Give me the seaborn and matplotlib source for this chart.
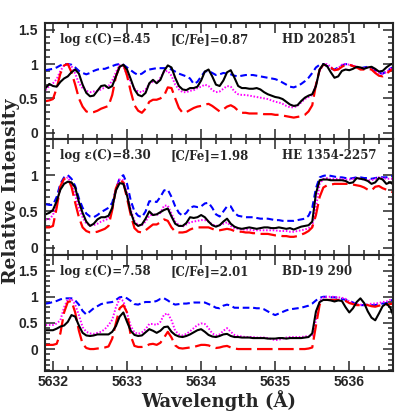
import numpy as np
import pandas as pd
import matplotlib
matplotlib.use("Agg")
import matplotlib.pyplot as plt
import seaborn as sns
from matplotlib.ticker import MultipleLocator, FixedLocator, FuncFormatter

# wavelength grid, 0.05 A step, 5631.90 .. 5636.60
wave = np.round(5631.90 + 0.05 * np.arange(95), 2)

# ---- HD 202851 ----
hd_obs = [0.65,0.71,0.68,0.67,0.74,0.79,0.82,0.88,0.92,0.86,
          0.70,0.58,0.53,0.54,0.61,0.68,0.69,0.65,0.68,0.82,
          0.96,0.99,0.92,0.78,0.63,0.55,0.53,0.58,0.72,0.77,
          0.72,0.77,0.90,0.98,0.95,0.80,0.68,0.63,0.62,0.65,
          0.65,0.67,0.76,0.89,0.92,0.82,0.70,0.68,0.76,0.88,
          0.91,0.80,0.68,0.65,0.65,0.64,0.64,0.65,0.63,0.59,
          0.56,0.54,0.52,0.51,0.49,0.45,0.41,0.39,0.40,0.46,
          0.51,0.54,0.56,0.68,0.92,1.00,0.97,0.88,0.80,0.82,
          0.90,0.92,0.91,0.93,0.96,0.95,0.93,0.95,0.96,0.93,
          0.89,0.90,0.95,0.99,1.01]
hd_blue = [0.91,0.92,0.93,0.95,0.98,1.00,1.00,0.99,0.95,0.90,
           0.87,0.85,0.87,0.90,0.92,0.93,0.93,0.95,0.97,0.99,
           1.00,0.99,0.95,0.91,0.87,0.84,0.86,0.90,0.92,0.93,
           0.94,0.94,0.94,0.94,0.92,0.89,0.86,0.84,0.82,0.79,
           0.71,0.74,0.82,0.89,0.90,0.87,0.84,0.85,0.87,0.86,
           0.85,0.83,0.82,0.83,0.84,0.84,0.84,0.83,0.82,0.81,
           0.80,0.79,0.78,0.76,0.73,0.70,0.67,0.66,0.68,0.71,
           0.75,0.80,0.87,0.95,0.99,1.00,0.97,0.93,0.92,0.95,
           0.98,1.00,0.99,0.97,0.95,0.94,0.95,0.96,0.95,0.91,
           0.87,0.86,0.89,0.93,0.96]
hd_mag = [0.62,0.68,0.72,0.78,0.90,0.98,1.00,0.97,0.86,0.72,
          0.65,0.61,0.59,0.60,0.61,0.63,0.66,0.68,0.76,0.88,
          0.99,0.97,0.84,0.74,0.64,0.60,0.59,0.63,0.71,0.74,
          0.73,0.80,0.89,0.90,0.83,0.70,0.63,0.59,0.59,0.61,
          0.62,0.65,0.67,0.70,0.68,0.62,0.59,0.60,0.64,0.68,
          0.67,0.60,0.56,0.55,0.55,0.54,0.53,0.52,0.51,0.50,
          0.49,0.47,0.45,0.44,0.42,0.39,0.37,0.37,0.39,0.44,
          0.49,0.52,0.55,0.70,0.90,0.99,1.00,0.96,0.91,0.94,
          0.99,1.00,0.99,0.98,0.96,0.93,0.94,0.95,0.94,0.90,
          0.87,0.86,0.88,0.93,0.97]
hd_red = [0.46,0.47,0.49,0.65,0.86,0.98,1.00,0.88,0.70,0.50,
          0.38,0.31,0.29,0.30,0.32,0.35,0.37,0.39,0.55,0.82,
          0.96,1.00,0.83,0.60,0.40,0.32,0.29,0.35,0.45,0.48,
          0.48,0.50,0.54,0.66,0.65,0.50,0.36,0.29,0.30,0.33,
          0.36,0.38,0.39,0.41,0.42,0.39,0.35,0.31,0.34,0.38,
          0.40,0.37,0.32,0.29,0.29,0.28,0.28,0.28,0.28,0.27,
          0.27,0.27,0.26,0.26,0.25,0.24,0.23,0.22,0.23,0.24,
          0.26,0.31,0.40,0.70,0.92,0.99,0.98,0.95,0.91,0.92,
          0.96,0.99,0.99,0.97,0.95,0.92,0.92,0.93,0.92,0.87,
          0.83,0.82,0.86,0.90,0.94]

# ---- HE 1354-2257 ----
he_obs = [0.46,0.48,0.52,0.64,0.80,0.88,0.91,0.90,0.83,0.63,
          0.48,0.36,0.30,0.33,0.39,0.42,0.42,0.44,0.55,0.79,
          0.89,0.88,0.72,0.49,0.34,0.30,0.32,0.40,0.50,0.45,
          0.46,0.49,0.52,0.54,0.43,0.33,0.30,0.30,0.34,0.42,
          0.41,0.42,0.45,0.42,0.36,0.31,0.29,0.31,0.36,0.40,
          0.33,0.29,0.27,0.26,0.27,0.28,0.27,0.26,0.27,0.28,
          0.28,0.27,0.27,0.28,0.27,0.26,0.27,0.25,0.27,0.29,
          0.30,0.31,0.36,0.75,0.93,0.94,0.94,0.93,0.93,0.93,
          0.93,0.92,0.89,0.90,0.96,0.95,0.94,0.92,0.88,0.90,
          0.96,0.94,0.88,0.90,0.87]
he_blue = [0.60,0.59,0.59,0.70,0.88,0.97,1.00,0.95,0.85,0.68,
           0.55,0.47,0.43,0.42,0.45,0.49,0.52,0.55,0.62,0.80,
           0.96,1.00,0.88,0.65,0.50,0.44,0.42,0.50,0.64,0.64,
           0.63,0.70,0.79,0.80,0.70,0.57,0.48,0.44,0.48,0.55,
           0.57,0.56,0.57,0.61,0.62,0.55,0.46,0.43,0.50,0.57,
           0.57,0.48,0.44,0.43,0.42,0.42,0.42,0.41,0.40,0.40,
           0.40,0.39,0.38,0.38,0.37,0.37,0.37,0.37,0.38,0.39,
           0.40,0.44,0.55,0.82,0.97,0.99,1.00,0.99,0.98,0.97,
           0.97,0.96,0.95,0.96,0.97,0.97,0.96,0.96,0.95,0.96,
           0.97,0.97,0.97,0.98,0.99]
he_mag = [0.39,0.39,0.45,0.62,0.82,0.94,0.97,0.88,0.72,0.55,
          0.42,0.33,0.31,0.31,0.33,0.36,0.38,0.40,0.52,0.82,
          0.94,0.93,0.75,0.52,0.37,0.31,0.31,0.36,0.44,0.46,
          0.45,0.48,0.58,0.58,0.47,0.36,0.31,0.29,0.32,0.35,
          0.36,0.37,0.38,0.38,0.36,0.32,0.30,0.31,0.33,0.35,
          0.30,0.27,0.26,0.25,0.25,0.25,0.24,0.24,0.24,0.24,
          0.24,0.24,0.24,0.23,0.23,0.23,0.22,0.22,0.23,0.24,
          0.25,0.27,0.30,0.55,0.88,0.95,0.96,0.95,0.95,0.95,
          0.95,0.94,0.94,0.95,0.96,0.95,0.94,0.93,0.93,0.95,
          0.97,0.96,0.95,0.95,0.95]
he_red = [0.28,0.28,0.30,0.55,0.85,0.95,0.96,0.84,0.62,0.42,
          0.28,0.23,0.21,0.21,0.22,0.24,0.26,0.30,0.52,0.82,
          0.93,0.90,0.68,0.45,0.27,0.22,0.21,0.24,0.28,0.32,
          0.32,0.35,0.39,0.37,0.28,0.22,0.21,0.21,0.22,0.25,
          0.27,0.28,0.28,0.28,0.28,0.26,0.24,0.24,0.25,0.26,
          0.25,0.23,0.22,0.22,0.21,0.21,0.20,0.20,0.19,0.19,
          0.19,0.18,0.17,0.17,0.16,0.16,0.15,0.15,0.16,0.18,
          0.20,0.23,0.28,0.45,0.70,0.83,0.86,0.87,0.88,0.88,
          0.88,0.88,0.88,0.87,0.86,0.85,0.83,0.80,0.79,0.84,
          0.85,0.82,0.80,0.78,0.76]

# ---- BD-19 290 ----
bd_obs = [0.36,0.36,0.36,0.39,0.43,0.45,0.52,0.65,0.62,0.45,
          0.31,0.26,0.25,0.26,0.28,0.28,0.28,0.28,0.33,0.44,
          0.62,0.70,0.52,0.35,0.27,0.25,0.26,0.32,0.38,0.35,
          0.31,0.35,0.42,0.43,0.33,0.27,0.24,0.23,0.25,0.28,
          0.32,0.36,0.38,0.33,0.27,0.24,0.23,0.25,0.28,0.29,
          0.25,0.23,0.23,0.22,0.22,0.22,0.21,0.21,0.21,0.21,
          0.20,0.20,0.20,0.21,0.21,0.20,0.21,0.21,0.21,0.21,
          0.22,0.23,0.30,0.72,0.90,0.94,0.94,0.93,0.91,0.93,
          0.92,0.80,0.70,0.78,0.90,0.97,0.88,0.72,0.60,0.55,
          0.68,0.82,0.87,0.80,0.62]
bd_blue = [0.87,0.88,0.90,0.92,0.95,0.97,0.97,0.97,0.93,0.85,
           0.73,0.66,0.72,0.78,0.82,0.86,0.88,0.89,0.90,0.94,
           0.99,1.00,0.97,0.92,0.86,0.85,0.88,0.90,0.90,0.90,
           0.92,0.96,0.97,0.93,0.88,0.85,0.86,0.87,0.87,0.88,
           0.89,0.89,0.89,0.89,0.86,0.83,0.79,0.78,0.83,0.85,
           0.83,0.79,0.79,0.79,0.79,0.79,0.79,0.78,0.78,0.76,
           0.72,0.68,0.65,0.68,0.71,0.74,0.76,0.77,0.78,0.79,
           0.81,0.83,0.87,0.93,0.98,1.00,1.00,0.99,0.99,0.98,
           0.96,0.94,0.92,0.89,0.86,0.84,0.84,0.85,0.84,0.84,
           0.86,0.87,0.88,0.92,0.95]
bd_mag = [0.46,0.46,0.46,0.49,0.55,0.80,0.95,0.96,0.85,0.65,
          0.42,0.33,0.30,0.29,0.31,0.33,0.38,0.46,0.56,0.80,
          0.96,0.92,0.68,0.44,0.32,0.29,0.32,0.38,0.48,0.48,
          0.46,0.52,0.66,0.68,0.55,0.35,0.28,0.26,0.29,0.34,
          0.40,0.46,0.49,0.48,0.40,0.30,0.26,0.28,0.35,0.40,
          0.33,0.27,0.25,0.24,0.23,0.23,0.23,0.22,0.22,0.22,
          0.21,0.19,0.17,0.18,0.20,0.22,0.23,0.23,0.23,0.23,
          0.24,0.25,0.26,0.55,0.92,0.99,1.00,1.00,1.00,0.99,
          0.98,0.96,0.91,0.88,0.86,0.85,0.84,0.85,0.87,0.87,
          0.88,0.90,0.91,0.94,0.97]
bd_red = [0.08,0.08,0.08,0.10,0.30,0.70,0.90,0.92,0.70,0.35,
          0.10,0.02,0.00,0.00,0.01,0.02,0.03,0.05,0.20,0.50,
          0.78,0.84,0.70,0.25,0.06,0.04,0.04,0.05,0.09,0.10,
          0.08,0.12,0.22,0.33,0.22,0.07,0.02,0.01,0.02,0.03,
          0.04,0.06,0.08,0.08,0.07,0.04,0.02,0.03,0.05,0.06,
          0.03,0.01,0.00,0.00,0.00,0.00,0.00,0.00,0.00,0.00,
          0.00,0.00,0.00,0.00,0.00,0.00,0.00,0.00,0.00,0.00,
          0.00,0.01,0.03,0.45,0.85,0.94,0.94,0.94,0.94,0.94,
          0.94,0.92,0.88,0.86,0.84,0.84,0.85,0.84,0.82,0.81,
          0.83,0.84,0.85,0.86,0.87]

log_eps = ["log \u03b5(C)=8.45", "log \u03b5(C)=8.30", "log \u03b5(C)=7.58"]
c_fe = ["[C/Fe]=0.87", "[C/Fe]=1.98", "[C/Fe]=2.01"]
stars = ["HD 202851", "HE 1354-2257", "BD-19 290"]

panels = [(hd_obs, hd_blue, hd_mag, hd_red),
          (he_obs, he_blue, he_mag, he_red),
          (bd_obs, bd_blue, bd_mag, bd_red)]
ylims = [(-0.09, 1.6), (-0.1, 1.5), (-0.42, 1.8)]
yticks = [[0, 0.5, 1, 1.5], [0, 0.5, 1], [0, 0.5, 1, 1.5]]

sns.set_style("ticks")
plt.rcParams["font.family"] = ["Liberation Sans", "DejaVu Sans"]
plt.rcParams["font.weight"] = "bold"

fig, axes = plt.subplots(3, 1, sharex=True, figsize=(4.15, 4.15), dpi=100)
fig.subplots_adjust(left=0.108, right=0.947, top=0.945, bottom=0.106, hspace=0)

fmt = FuncFormatter(lambda v, p: "%g" % v)

for i, ax in enumerate(axes):
    obs, blue, mag, red = panels[i]
    sns.lineplot(x=wave, y=blue, ax=ax, color="#0000ff", linewidth=1.5,
                 linestyle=(0, (3.2, 1.8)))
    sns.lineplot(x=wave, y=mag, ax=ax, color="#ff00ff", linewidth=1.4,
                 linestyle=(0, (0.8, 0.9)))
    sns.lineplot(x=wave, y=red, ax=ax, color="#ff0000", linewidth=1.6,
                 linestyle=(0, (7, 2.5)))
    sns.lineplot(x=wave, y=obs, ax=ax, color="black", linewidth=1.5)

    ax.set_xlim(5631.89, 5636.59)
    ax.set_ylim(*ylims[i])
    ax.xaxis.set_major_locator(MultipleLocator(1))
    ax.xaxis.set_minor_locator(MultipleLocator(0.2))
    ax.yaxis.set_major_locator(FixedLocator(yticks[i]))
    ax.yaxis.set_minor_locator(MultipleLocator(0.1))
    ax.xaxis.set_major_formatter(fmt)
    ax.yaxis.set_major_formatter(fmt)
    ax.tick_params(which="both", direction="in", top=True, right=True,
                   width=1.1, labelsize=10)
    ax.tick_params(which="major", length=7)
    ax.tick_params(which="minor", length=3.5)
    ax.tick_params(axis="y", pad=5)
    ax.tick_params(axis="x", pad=3)
    for s in ax.spines.values():
        s.set_linewidth(1.5)
    ax.set_xlabel("")
    ax.set_ylabel("")

    for xpos, txt in [(0.043, log_eps[i]), (0.362, c_fe[i]), (0.681, stars[i])]:
        ax.text(xpos, 0.855, txt, transform=ax.transAxes, va="center",
                fontsize=8.5, fontweight="bold", family=["DejaVu Serif"])

axes[2].set_xlabel("Wavelength (\u00c5)", fontsize=13, fontweight="bold",
                   family=["DejaVu Serif"], labelpad=1)
fig.text(0.027, 0.539, "Relative Intensity", rotation=90, ha="center",
         va="center", fontsize=13.5, fontweight="bold", family=["DejaVu Serif"])

fig.savefig("out.png", dpi=100)
